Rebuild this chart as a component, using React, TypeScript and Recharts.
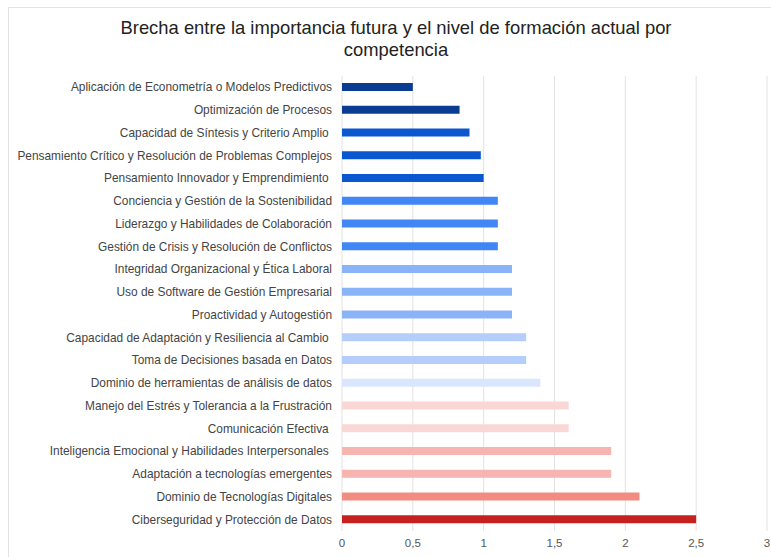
import React from 'react';
import { BarChart, Bar, XAxis, YAxis, CartesianGrid, Cell } from 'recharts';

const categories = [
  'Aplicación de Econometría o Modelos Predictivos',
  'Optimización de Procesos',
  'Capacidad de Síntesis y Criterio Amplio ',
  'Pensamiento Crítico y Resolución de Problemas Complejos',
  'Pensamiento Innovador y Emprendimiento ',
  'Conciencia y Gestión de la Sostenibilidad',
  'Liderazgo y Habilidades de Colaboración',
  'Gestión de Crisis y Resolución de Conflictos',
  'Integridad Organizacional y Ética Laboral',
  'Uso de Software de Gestión Empresarial',
  'Proactividad y Autogestión',
  'Capacidad de Adaptación y Resiliencia al Cambio ',
  'Toma de Decisiones basada en Datos',
  'Dominio de herramientas de análisis de datos',
  'Manejo del Estrés y Tolerancia a la Frustración',
  'Comunicación Efectiva ',
  'Inteligencia Emocional y Habilidades Interpersonales ',
  'Adaptación a tecnologías emergentes',
  'Dominio de Tecnologías Digitales',
  'Ciberseguridad y Protección de Datos',
];

const gapValues = [0.5, 0.83, 0.9, 0.98, 1.0, 1.1, 1.1, 1.1, 1.2, 1.2, 1.2, 1.3, 1.3, 1.4, 1.6, 1.6, 1.9, 1.9, 2.1, 2.5];

const barColors = [
  '#0a3d91', '#0a3d91',
  '#0b57d0', '#0b57d0', '#0b57d0',
  '#4285f4', '#4285f4', '#4285f4',
  '#8ab4f8', '#8ab4f8', '#8ab4f8',
  '#b4cdfa', '#b4cdfa',
  '#d9e6fc',
  '#f9d7d5', '#f9d7d5',
  '#f6b5b0', '#f6b5b0',
  '#f28b82',
  '#c5221f',
];

const xTicks = [0, 0.5, 1, 1.5, 2, 2.5, 3];

const data = categories.map((name, i) => ({ name, value: gapValues[i] }));

const FONT = 'Arial, "Liberation Sans", Helvetica, sans-serif';

const YTick = (props: any) => {
  const { x, y, payload } = props;
  return (
    <text
      x={x}
      y={y}
      dy={4}
      textAnchor="end"
      fill="#444444"
      fontSize={11.9}
      fontFamily={FONT}
      style={{ whiteSpace: 'pre' }}
    >
      {payload.value}
    </text>
  );
};

export default function App() {
  return (
    <div style={{ position: 'fixed', left: 0, top: 0, width: 771, height: 557, background: '#ffffff', overflow: 'hidden' }}>
      <div
        style={{
          position: 'absolute',
          left: 8,
          top: 7,
          width: 800,
          height: 600,
          border: '1px solid #e3e3e3',
          boxSizing: 'border-box',
        }}
      />
      <div
        style={{
          position: 'absolute',
          left: 10,
          top: 17,
          width: 772,
          textAlign: 'center',
          fontFamily: FONT,
          fontSize: 18.4,
          lineHeight: '22px',
          color: '#222222',
        }}
      >
        Brecha entre la importancia futura y el nivel de formación actual por
        <br />
        competencia
      </div>
      <div style={{ position: 'absolute', left: 0, top: 0 }}>
        <BarChart
          width={771}
          height={557}
          data={data}
          layout="vertical"
          margin={{ top: 76, right: 4, bottom: 6, left: 0 }}
        >
          <CartesianGrid horizontal={false} vertical={true} stroke="#e2e2e2" />
          <XAxis
            type="number"
            domain={[0, 3]}
            ticks={xTicks}
            axisLine={false}
            tickLine={false}
            height={20}
            tick={{ fill: '#555555', fontSize: 11.5, fontFamily: FONT }}
            tickFormatter={(v: number) => String(v).replace('.', ',')}
          />
          <YAxis
            type="category"
            dataKey="name"
            width={342}
            axisLine={false}
            tickLine={false}
            interval={0}
            tick={<YTick />}
            tickMargin={4}
          />
          <Bar dataKey="value" barSize={8} isAnimationActive={false}>
            {data.map((d, i) => (
              <Cell key={d.name} fill={barColors[i]} />
            ))}
          </Bar>
        </BarChart>
      </div>
    </div>
  );
}
